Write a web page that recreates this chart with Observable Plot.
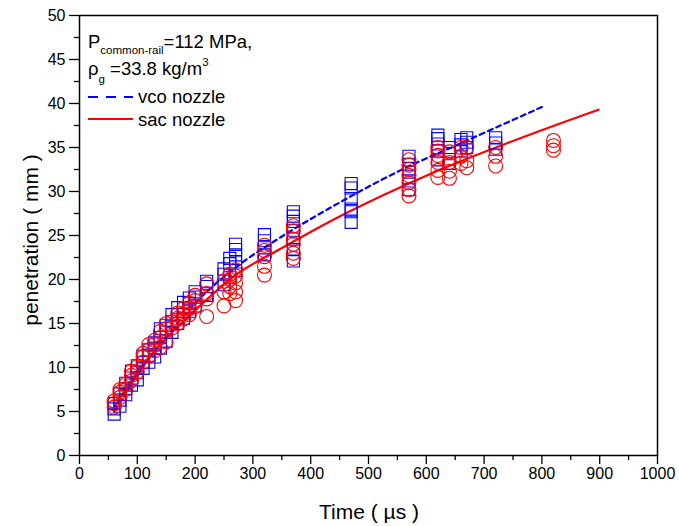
<!DOCTYPE html>
<html>
<head>
<meta charset="utf-8">
<script src="https://cdn.jsdelivr.net/npm/d3@7"></script>
<script src="https://cdn.jsdelivr.net/npm/@observablehq/plot@0.6"></script>
<style>
  html, body { margin: 0; padding: 0; background: #fff; }
  #chart { width: 679px; height: 526px; }
</style>
</head>
<body>
<div id="chart"></div>
<script>
// ---- data ----
const vcoTimes = [60,70,80,90,100,110,120,130,140,150,160,170,180,190,200,220,250,260,270,320,370,470,570,620,640,660,670,720];
const vcoValues = [
  [4.7,5.3,5.9],[5.6,6.3,7.0],[6.9,7.6,8.2],[8.0,8.8,9.6],[8.6,9.4,10.2],
  [9.9,10.6,11.3],[10.6,11.4,12.0],[11.2,12.2,12.8],[12.2,13.4,14.4],[13.0,14.0,14.8],
  [14.0,15.2,16.0],[15.0,16.0,16.8],[15.6,16.8,17.4],[16.4,17.3,17.9],[17.0,18.0,18.6],
  [18.2,19.2,19.8],[19.4,20.6,21.2],[20.2,21.8,22.4],[21.0,22.0,22.8,23.4,24.0],
  [22.8,23.6,24.4,25.1],[22.1,23.4,24.6,25.6,26.6,27.2,27.7],[26.5,27.7,28.0,29.2,30.4,30.9],
  [30.2,31.2,32.2,33.1,34.0],[33.6,34.6,35.4,36.0,36.4],[33.2,34.3,35.0],
  [34.6,35.3,35.9],[35.0,35.6,36.1],[34.8,35.5,36.1]
];
const sacTimes = [60,70,80,90,100,110,120,130,140,150,160,170,180,190,200,220,250,260,270,320,370,570,620,640,660,670,720,820];
const sacValues = [
  [5.5,5.9,6.2],[6.6,7.2,7.5],[7.5,8.1],[8.5,9.1,9.6],[9.5,10.1],
  [10.6,11.2,11.6],[11.3,12.0,12.6],[11.9,12.6,13.1],[12.3,13.4,14.1],[12.9,14.4,15.0],
  [14.5,15.2],[15.0,15.6,16.2],[15.5,16.1,16.7],[16.0,16.7,17.3],[16.9,17.6,18.2],
  [15.8,17.8,18.4,19.5],[17.0,18.6,19.8],[18.4,19.2,20.0,20.6],[17.6,18.6,19.6,20.4,21.1],
  [20.5,21.5,22.6,23.3,23.9],[22.4,23.0,24.0,24.6,25.5,26.1],
  [29.5,30.2,31.0,31.8,32.5,33.0,33.6],[31.6,32.4,33.3,34.1,34.6,35.0],[31.5,32.3,33.3,34.5],
  [33.2,34.0,35.0],[32.7,33.5,35.0],[32.9,34.0,35.0],[34.7,35.2,35.8]
];
const vcoLineT = [60,100,150,200,279,348,457,555,650,800];
const vcoLineS = [5.0,9.2,13.5,17.3,21.8,24.8,29.0,32.4,35.2,39.6];
const sacLineT = [60,100,150,200,270,348,460,607,797,898];
const sacLineS = [5.5,9.5,13.3,16.5,20.5,23.5,27.5,32.0,36.9,39.3];
const xTicks = [0,100,200,300,400,500,600,700,800,900,1000];
const xMinor = [50,150,250,350,450,550,650,750,850,950];
const yTicks = [0,5,10,15,20,25,30,35,40,45,50];
const yMinor = [2.5,7.5,12.5,17.5,22.5,27.5,32.5,37.5,42.5,47.5];

// ---- build tables ----
const flat = (ts, vs) => ts.flatMap((t, i) => vs[i].map(v => ({t, v})));
const vco = flat(vcoTimes, vcoValues);
const sac = flat(sacTimes, sacValues);
const vcoLine = vcoLineT.map((t, i) => ({t, v: vcoLineS[i]}));
const sacLine = sacLineT.map((t, i) => ({t, v: sacLineS[i]}));

const FONT = "'Liberation Sans', Arial, Helvetica, sans-serif";

const chart = Plot.plot({
  width: 679,
  height: 526,
  marginLeft: 79,
  marginRight: 22,
  marginTop: 15,
  marginBottom: 71,
  x: {domain: [0, 1000]},
  y: {domain: [0, 50]},
  style: {fontFamily: FONT, fontSize: "16px", color: "black", background: "white", overflow: "visible"},
  marks: [
    Plot.axisX({ticks: xTicks, tickSize: 9, tickPadding: 3, tickFormat: d3.format("d"), label: null, fontSize: 16, strokeWidth: 1.3}),
    Plot.axisX({ticks: xMinor, tickSize: 5, tickFormat: () => "", label: null, strokeWidth: 1.3}),
    Plot.axisY({ticks: yTicks, tickSize: 10, tickPadding: 4, tickFormat: d3.format("d"), label: null, fontSize: 16, strokeWidth: 1.3}),
    Plot.axisY({ticks: yMinor, tickSize: 5, tickFormat: () => "", label: null, strokeWidth: 1.3}),
    Plot.line(vcoLine, {x: "t", y: "v", stroke: "#0000ff", strokeWidth: 2.2, strokeDasharray: "5,4", curve: "monotone-x"}),
    Plot.line(sacLine, {x: "t", y: "v", stroke: "#ff0000", strokeWidth: 2.2, curve: "monotone-x"}),
    Plot.dot(vco, {x: "t", y: "v", symbol: "square", r: 6.8, stroke: "#0000ff", strokeWidth: 1.1, fill: "none"}),
    Plot.dot(sac, {x: "t", y: "v", symbol: "circle", r: 7, stroke: "#ff0000", strokeWidth: 1.1, fill: "none"}),
    Plot.frame({stroke: "black", strokeWidth: 1.5})
  ]
});

document.getElementById("chart").appendChild(chart);

// ---- titles and in-plot legend ----
const svg = d3.select(chart);
const g = svg.append("g").attr("font-family", FONT).attr("fill", "black").attr("text-anchor", "start");

g.append("text").attr("x", 369).attr("y", 519).attr("text-anchor", "middle")
  .attr("font-size", 21).text("Time ( µs )");
g.append("text").attr("transform", "translate(38,240) rotate(-90)").attr("text-anchor", "middle")
  .attr("font-size", 21).text("penetration ( mm )");

const t1 = g.append("text").attr("x", 88).attr("y", 48).attr("font-size", 18.5);
t1.append("tspan").text("P");
t1.append("tspan").attr("font-size", 11.5).attr("dy", 6).text("common-rail");
t1.append("tspan").attr("dy", -6).text("=112 MPa,");

const t2 = g.append("text").attr("x", 88).attr("y", 75).attr("font-size", 18.5);
t2.append("tspan").text("ρ");
t2.append("tspan").attr("font-size", 11.5).attr("dy", 8).text("g");
t2.append("tspan").attr("dy", -8).text(" =33.8 kg/m");
t2.append("tspan").attr("font-size", 11.5).attr("dy", -9).text("3");

g.append("line").attr("x1", 88).attr("x2", 133).attr("y1", 97).attr("y2", 97)
  .attr("stroke", "#0000ff").attr("stroke-width", 2.2).attr("stroke-dasharray", "10,8");
g.append("text").attr("x", 138).attr("y", 103).attr("font-size", 18.5).text("vco nozzle");
g.append("line").attr("x1", 88).attr("x2", 133).attr("y1", 119).attr("y2", 119)
  .attr("stroke", "#ff0000").attr("stroke-width", 2.2);
g.append("text").attr("x", 138).attr("y", 126).attr("font-size", 18.5).text("sac nozzle");
</script>
</body>
</html>
